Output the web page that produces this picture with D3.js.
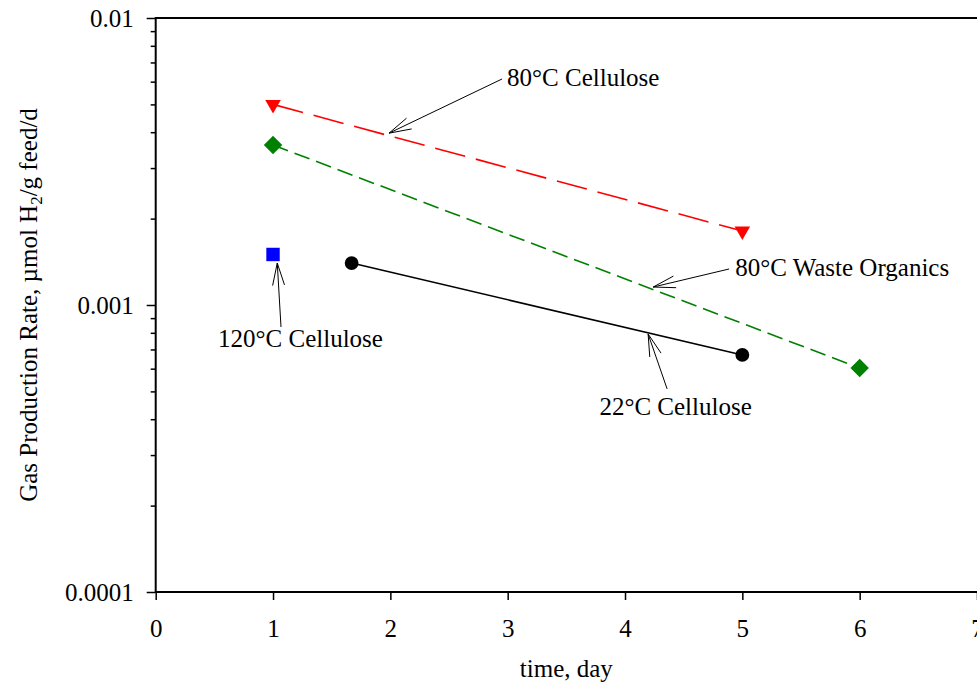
<!DOCTYPE html>
<html>
<head>
<meta charset="utf-8">
<script src="https://cdn.jsdelivr.net/npm/d3@7"></script>
<style>
  html, body { margin: 0; padding: 0; background: #fff; }
  svg { display: block; }
  text { font-family: "Liberation Serif", "Times New Roman", serif; fill: #000; }
</style>
</head>
<body>
<svg id="chart" width="977" height="687"></svg>
<script>
// ---- data ----
const xTicks = [0, 1, 2, 3, 4, 5, 6, 7];
const yMajorTicks = [0.0001, 0.001, 0.01];
const yTickLabels = ["0.0001", "0.001", "0.01"];

const cell80 = [[1, 0.0050], [5, 0.00181]];
const waste80 = [[1, 0.00361], [6, 0.000603]];
const cell120 = [[1, 0.00150]];
const cell22 = [[1.67, 0.00140], [5, 0.00067]];

// annotations: label text, label position (data), tail and tip (data)
const annotations = [
  { text: "80°C Cellulose", lx: 2.995, ly: 0.00580, anchor: "start", tail: [2.952, 0.00613], tip: [1.989, 0.00397] },
  { text: "80°C Waste Organics", lx: 4.939, ly: 0.001262, anchor: "start", tail: [4.887, 0.001335], tip: [4.240, 0.001155] },
  { text: "22°C Cellulose", lx: 4.431, ly: 0.000414, anchor: "middle", tail: [4.359, 0.000510], tip: [4.197, 0.000792] },
  { text: "120°C Cellulose", lx: 1.234, ly: 0.000714, anchor: "middle", tail: [1.068, 0.000838], tip: [1.036, 0.00140] }
];

// ---- layout ----
const svg = d3.select("#chart");
const mLeft = 155.7, mRight = 977, mTop = 18, mBottom = 592;
const x = d3.scaleLinear().domain([0, 7]).range([mLeft, mRight]);
const y = d3.scaleLog().domain([0.0001, 0.01]).range([mBottom, mTop]);
const FS = 25;

// minor ticks
const yMinor = [];
[0.0001, 0.001].forEach(d => { for (let k = 2; k <= 9; k++) yMinor.push(d * k); });

const gMinor = svg.append("g").attr("transform", `translate(${mLeft},0)`)
  .call(d3.axisLeft(y).tickValues(yMinor).tickSize(5).tickFormat(""));
gMinor.select(".domain").remove();
gMinor.selectAll("line").attr("stroke", "#000").attr("stroke-width", 1.5);

const gY = svg.append("g").attr("transform", `translate(${mLeft},0)`)
  .call(d3.axisLeft(y).tickValues(yMajorTicks).tickSize(9).tickPadding(13)
    .tickFormat((d, i) => yTickLabels[i]));
gY.select(".domain").remove();
gY.attr("font-family", null);
gY.selectAll("line").attr("stroke", "#000").attr("stroke-width", 1.5);
gY.selectAll("text").style("font-size", FS + "px").style("font-family", "'Liberation Serif', serif").attr("dy", "0.34em");

const gX = svg.append("g").attr("transform", `translate(0,${mBottom})`)
  .call(d3.axisBottom(x).tickValues(xTicks).tickSize(8).tickPadding(19).tickFormat(d3.format("d")));
gX.select(".domain").remove();
gX.attr("font-family", null);
gX.selectAll("line").attr("stroke", "#000").attr("stroke-width", 1.5);
gX.selectAll("text").style("font-size", FS + "px").style("font-family", "'Liberation Serif', serif");

// frame
svg.append("path")
  .attr("d", `M${mRight + 2},${mTop}H${mLeft}V${mBottom}H${mRight + 2}`)
  .attr("fill", "none").attr("stroke", "#000").attr("stroke-width", 2);

// axis titles
svg.append("text")
  .attr("x", (mLeft + mRight) / 2).attr("y", 677)
  .attr("text-anchor", "middle").style("font-size", FS + "px")
  .text("time, day");

const yl = svg.append("text")
  .attr("transform", `translate(37,${(mTop + mBottom) / 2}) rotate(-90)`)
  .attr("text-anchor", "middle").style("font-size", FS + "px");
yl.append("tspan").text("Gas Production Rate, µmol H");
yl.append("tspan").attr("baseline-shift", "-30%").style("font-size", "17px").text("2");
yl.append("tspan").text("/g feed/d");

// lines
const line = d3.line().x(d => x(d[0])).y(d => y(d[1]));
svg.append("path").datum(cell80).attr("d", line)
  .attr("fill", "none").attr("stroke", "#ff0000").attr("stroke-width", 1.6).attr("stroke-dasharray", "31,11");
svg.append("path").datum(waste80).attr("d", line)
  .attr("fill", "none").attr("stroke", "#008000").attr("stroke-width", 1.6).attr("stroke-dasharray", "16,7");
svg.append("path").datum(cell22).attr("d", line)
  .attr("fill", "none").attr("stroke", "#000").attr("stroke-width", 1.6);

// markers
function markers(data, type, size, color, rot) {
  svg.append("g").selectAll("path").data(data).join("path")
    .attr("d", d3.symbol().type(type).size(size))
    .attr("transform", d => `translate(${x(d[0])},${y(d[1])}) rotate(${rot})`)
    .attr("fill", color);
}
markers(cell80, d3.symbolTriangle, 105, "#ff0000", 180);
markers(waste80, d3.symbolSquare, 170, "#008000", 45);
markers(cell120, d3.symbolSquare, 180, "#0000ff", 0);
markers(cell22, d3.symbolCircle, 150, "#000", 0);

// annotations
const headLen = 23, headAng = 15 * Math.PI / 180;
annotations.forEach(a => {
  const tx = x(a.tail[0]), ty = y(a.tail[1]);
  const px = x(a.tip[0]), py = y(a.tip[1]);
  svg.append("line").attr("x1", tx).attr("y1", ty).attr("x2", px).attr("y2", py)
    .attr("stroke", "#000").attr("stroke-width", 1);
  const ang = Math.atan2(ty - py, tx - px);
  [-headAng, headAng].forEach(h => {
    svg.append("line").attr("x1", px).attr("y1", py)
      .attr("x2", px + headLen * Math.cos(ang + h)).attr("y2", py + headLen * Math.sin(ang + h))
      .attr("stroke", "#000").attr("stroke-width", 1);
  });
  svg.append("text").attr("x", x(a.lx)).attr("y", y(a.ly))
    .attr("text-anchor", a.anchor).style("font-size", FS + "px").text(a.text);
});
</script>
</body>
</html>
